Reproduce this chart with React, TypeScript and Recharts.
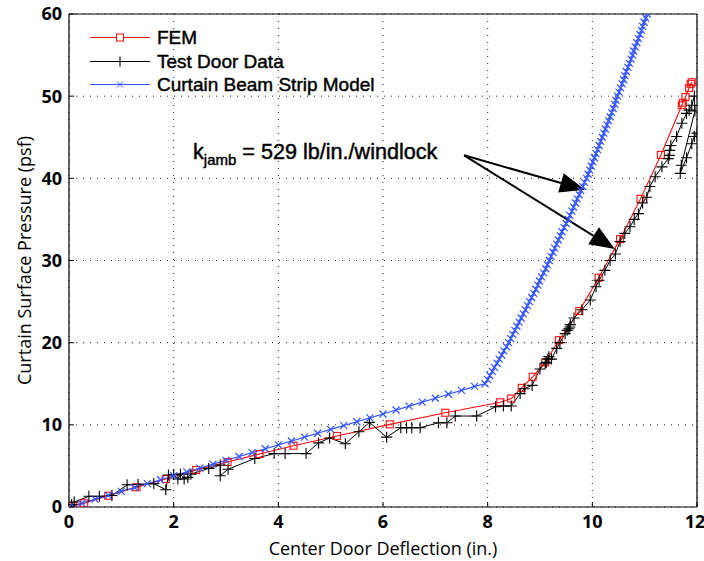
import React from 'react';
import {
  LineChart,
  Line,
  XAxis,
  YAxis,
  CartesianGrid,
  ReferenceLine,
  ReferenceDot,
  Label,
} from 'recharts';

const xTicks = [0, 2, 4, 6, 8, 10, 12];
const yTicks = [0, 10, 20, 30, 40, 50, 60];

const seriesNames = ['FEM', 'Test Door Data', 'Curtain Beam Strip Model'];
const annotationMain = 'k';
const annotationSub = 'jamb';
const annotationRest = ' = 529 lb/in./windlock';

// FEM
const femX = [0.08, 0.29, 0.75, 1.29, 1.85, 2.43, 3.03, 3.64, 4.29, 5.12, 6.13, 7.19, 8.24, 8.45, 8.65, 8.86, 9.1, 9.36, 9.75, 10.12, 10.53, 10.92, 11.31, 11.71, 11.73, 11.78, 11.85, 11.88, 11.9];
const femY = [0.12, 0.45, 1.37, 2.4, 3.4, 4.5, 5.47, 6.45, 7.46, 8.64, 10.06, 11.47, 12.74, 13.2, 14.5, 15.85, 17.6, 20.3, 23.85, 27.9, 32.6, 37.5, 42.85, 48.9, 49.2, 49.9, 51.0, 51.5, 51.7];

// Test door data
const testX = [0.05, 0.1, 0.38, 0.58, 0.82, 1.11, 1.32, 1.62, 1.85, 1.9, 2.0, 2.08, 2.13, 2.2, 2.27, 2.33, 2.67, 2.89, 2.89, 3.04, 3.55, 3.92, 4.13, 4.53, 4.77, 4.98, 5.28, 5.54, 5.74, 6.07, 6.34, 6.45, 6.55, 6.71, 7.06, 7.22, 7.38, 7.79, 8.15, 8.3, 8.45, 8.62, 8.7, 8.85, 9.0, 9.1, 9.12, 9.17, 9.15, 9.22, 9.32, 9.38, 9.48, 9.52, 9.57, 9.55, 9.58, 9.65, 9.8, 9.96, 10.07, 10.13, 10.24, 10.34, 10.44, 10.53, 10.62, 10.72, 10.8, 10.88, 10.96, 11.04, 11.1, 11.2, 11.33, 11.45, 11.47, 11.48, 11.5, 11.61, 11.71, 11.8, 11.85, 11.9, 11.95, 11.96, 11.7, 11.68, 11.8, 11.9, 11.95, 12.0];
const testY = [0.3, 0.6, 1.3, 1.3, 1.4, 2.7, 2.75, 2.85, 2.1, 3.9, 3.95, 3.4, 4.0, 3.4, 3.6, 4.0, 4.7, 5.1, 3.8, 4.6, 5.9, 6.5, 6.5, 6.5, 7.8, 8.4, 7.7, 9.15, 10.3, 8.5, 9.65, 9.65, 9.65, 9.65, 10.25, 10.25, 11.07, 11.07, 12.2, 12.3, 12.3, 13.8, 14.4, 14.8, 16.8, 17.5, 17.6, 18.3, 18.0, 18.0, 19.3, 20.0, 21.1, 21.5, 21.9, 21.7, 22.2, 23.0, 24.0, 25.2, 26.8, 27.6, 28.8, 30.0, 30.8, 32.3, 33.3, 34.1, 35.0, 35.7, 37.0, 37.7, 39.0, 40.2, 41.4, 42.4, 42.8, 43.4, 44.0, 45.1, 46.7, 47.9, 48.3, 48.9, 50.0, 48.2, 41.6, 40.6, 42.5, 44.2, 45.1, 45.5];

// Curtain beam strip model
const beamX = [0, 0.25, 0.5, 0.75, 1.0, 1.25, 1.5, 1.75, 2.0, 2.25, 2.5, 2.75, 3.0, 3.25, 3.5, 3.75, 4.0, 4.25, 4.5, 4.75, 5.0, 5.25, 5.5, 5.75, 6.0, 6.25, 6.5, 6.75, 7.0, 7.25, 7.5, 7.75,
  7.95, 8.0, 8.04, 8.09, 8.13, 8.18, 8.22, 8.27, 8.31, 8.36, 8.4, 8.44, 8.48, 8.52, 8.56, 8.6, 8.64, 8.68, 8.72, 8.76, 8.8, 8.84, 8.88, 8.92, 8.96, 8.99, 9.03, 9.07, 9.11, 9.14, 9.18, 9.21, 9.25, 9.28, 9.32, 9.35, 9.39, 9.42, 9.46, 9.5, 9.54, 9.57, 9.61, 9.64, 9.68, 9.71, 9.75, 9.78, 9.82, 9.85, 9.89, 9.92, 9.95, 9.98, 10.01, 10.04, 10.07, 10.1, 10.13, 10.16, 10.19, 10.22, 10.25, 10.28, 10.31, 10.34, 10.37, 10.4, 10.43, 10.45, 10.48, 10.51, 10.54, 10.57, 10.6, 10.62, 10.65, 10.68, 10.71, 10.74, 10.77, 10.79, 10.82, 10.85, 10.88, 10.91, 10.94, 10.96, 10.99, 11.02, 11.05];
const beamY = [0, 0.47, 0.95, 1.42, 1.9, 2.37, 2.85, 3.32, 3.8, 4.27, 4.74, 5.21, 5.68, 6.15, 6.62, 7.09, 7.56, 8.03, 8.5, 8.97, 9.44, 9.91, 10.38, 10.85, 11.32, 11.8, 12.28, 12.76, 13.24, 13.72, 14.2, 14.68,
  15, 15.5, 16, 16.5, 17, 17.5, 18, 18.5, 19, 19.5, 20, 20.5, 21, 21.5, 22, 22.5, 23, 23.5, 24, 24.5, 25, 25.5, 26, 26.5, 27, 27.5, 28, 28.5, 29, 29.5, 30, 30.5, 31, 31.5, 32, 32.5, 33, 33.5, 34, 34.5, 35, 35.5, 36, 36.5, 37, 37.5, 38, 38.5, 39, 39.5, 40, 40.5, 41, 41.5, 42, 42.5, 43, 43.5, 44, 44.5, 45, 45.5, 46, 46.5, 47, 47.5, 48, 48.5, 49, 49.5, 50, 50.5, 51, 51.5, 52, 52.5, 53, 53.5, 54, 54.5, 55, 55.5, 56, 56.5, 57, 57.5, 58, 58.5, 59, 59.5, 60];

// Annotation anchor points (data coordinates)
const labelAt = { x: 2.37, y: 42.4 };
const arrowStart = { x: 7.55, y: 42.8 };
const arrowTip1 = { x: 9.86, y: 38.6 };
const arrowTip2 = { x: 10.43, y: 31.4 };

const zip = (xs: number[], ys: number[]) => xs.map((x, i) => ({ x, y: ys[i] }));
const femData = zip(femX, femY);
const testData = zip(testX, testY);
const beamData = zip(beamX, beamY);

const RED = '#ff0d0d';
const BLUE = '#3355ff';
const BLACK = '#000000';
const TEXT_STROKE = '0.45px #000';

const SquareDot = (p: any) => {
  if (p.cx == null || p.cy == null) return <g key={`s${p.index}`} />;
  return (
    <rect key={`s${p.index}`} x={p.cx - 3.5} y={p.cy - 3.5} width={7} height={7} fill="none" stroke={RED} strokeWidth={1.1} />
  );
};
const PlusDot = (p: any) => {
  if (p.cx == null || p.cy == null) return <g key={`p${p.index}`} />;
  const h = 5.5;
  return (
    <path key={`p${p.index}`} d={`M${p.cx - h},${p.cy}H${p.cx + h}M${p.cx},${p.cy - h}V${p.cy + h}`} stroke={BLACK} strokeWidth={1.1} fill="none" />
  );
};
const XDot = (p: any) => {
  if (p.cx == null || p.cy == null) return <g key={`x${p.index}`} />;
  const h = 3.5;
  return (
    <path key={`x${p.index}`} d={`M${p.cx - h},${p.cy - h}L${p.cx + h},${p.cy + h}M${p.cx - h},${p.cy + h}L${p.cx + h},${p.cy - h}`} stroke={BLUE} strokeWidth={1.2} fill="none" />
  );
};

const ArrowShape = (p: any) => {
  const { x1, y1, x2, y2 } = p;
  const dx = x2 - x1;
  const dy = y2 - y1;
  const len = Math.hypot(dx, dy) || 1;
  const ux = dx / len;
  const uy = dy / len;
  const hl = 25;
  const hw = 10;
  const bx = x2 - ux * hl;
  const by = y2 - uy * hl;
  const pts = `${x2},${y2} ${bx - uy * hw},${by + ux * hw} ${bx + uy * hw},${by - ux * hw}`;
  return (
    <g>
      <line x1={x1} y1={y1} x2={bx} y2={by} stroke={BLACK} strokeWidth={2} />
      <polygon points={pts} fill={BLACK} />
    </g>
  );
};

const AnnotationText = (p: any) => (
  <text x={p.cx} y={p.cy} fontFamily="'Liberation Sans', Arial, sans-serif" fontSize={21.6} fill={BLACK} stroke={BLACK} strokeWidth={0.45}>
    {annotationMain}
    <tspan dy={6} fontSize={15}>{annotationSub}</tspan>
    <tspan dy={-6} fontSize={21.6}>{annotationRest}</tspan>
  </text>
);

const legendItems = [
  { name: seriesNames[0], color: RED, marker: 'square' },
  { name: seriesNames[1], color: BLACK, marker: 'plus' },
  { name: seriesNames[2], color: BLUE, marker: 'x' },
];

const LegendMarker = ({ marker, color }: { marker: string; color: string }) => {
  const cx = 30;
  const cy = 11.5;
  if (marker === 'square') return <rect x={cx - 3.5} y={cy - 3.5} width={7} height={7} fill="#fff" stroke={color} />;
  if (marker === 'plus') return <path d={`M${cx - 5},${cy}H${cx + 5}M${cx},${cy - 5}V${cy + 5}`} stroke={color} strokeWidth={1.1} />;
  return <path d={`M${cx - 3},${cy - 3}L${cx + 3},${cy + 3}M${cx - 3},${cy + 3}L${cx + 3},${cy - 3}`} stroke={color} />;
};

const tickFont = { fontFamily: "'Open Sans', sans-serif", fontSize: 18, fontWeight: 700 };

const YTitle = (props: any) => {
  const vb = props.viewBox || { x: 8, y: 14, width: 61, height: 493 };
  const cx = vb.x + 23;
  const cy = vb.y + vb.height / 2;
  return (
    <text x={cx} y={cy} transform={`rotate(-90 ${cx} ${cy})`} textAnchor="middle" fontFamily="'Open Sans', sans-serif" fontSize={18} fill={BLACK}>
      Curtain Surface Pressure (psf)
    </text>
  );
};
const XTitle = (props: any) => {
  const vb = props.viewBox || { x: 69, y: 507, width: 628, height: 54 };
  return (
    <text x={vb.x + vb.width / 2} y={vb.y + 48} textAnchor="middle" fontFamily="'Open Sans', sans-serif" fontSize={18} fill={BLACK}>
      Center Door Deflection (in.)
    </text>
  );
};

const XTick = (p: any) => {
  const v = p.payload.value;
  const shift = v === xTicks[xTicks.length - 1] ? -2 : 0;
  return (
    <text x={p.x + shift} y={p.y} dy="0.71em" textAnchor="middle" fill={BLACK} style={tickFont}>
      {v}
    </text>
  );
};
const YTick = (p: any) => {
  const v = p.payload.value;
  return (
    <text x={p.x} y={p.y} dy="0.355em" textAnchor="end" fill={BLACK} style={tickFont}>
      {v}
    </text>
  );
};

export default function App() {
  return (
    <div style={{ position: 'fixed', left: 0, top: 0, width: 704, height: 561, background: '#fff' }}>
      <LineChart width={704} height={561} margin={{ top: 14, right: 7, bottom: 0, left: 8 }}>
        <CartesianGrid stroke="#222" strokeDasharray="1 6" strokeWidth={1} />
        <XAxis
          type="number"
          dataKey="x"
          domain={[0, 12]}
          ticks={xTicks}
          allowDataOverflow
          height={54}
          tickLine={{ stroke: BLACK }}
          tickSize={-5}
          tickMargin={13}
          axisLine={{ stroke: BLACK, strokeWidth: 1.2 }}
          tick={XTick}
          interval={0}
        >
          <Label content={XTitle} />
        </XAxis>
        <XAxis
          xAxisId="top"
          orientation="top"
          type="number"
          dataKey="x"
          domain={[0, 12]}
          ticks={xTicks}
          allowDataOverflow
          height={0}
          tickLine={{ stroke: BLACK }}
          tickSize={-5}
          tick={false}
          axisLine={false}
          interval={0}
        />
        <YAxis
          type="number"
          dataKey="y"
          domain={[0, 60]}
          ticks={yTicks}
          allowDataOverflow
          width={61}
          tickLine={{ stroke: BLACK }}
          tickSize={-5}
          tickMargin={12}
          axisLine={{ stroke: BLACK, strokeWidth: 1.2 }}
          tick={YTick}
          interval={0}
        >
          <Label content={YTitle} />
        </YAxis>
        <YAxis
          yAxisId="right"
          orientation="right"
          type="number"
          dataKey="y"
          domain={[0, 60]}
          ticks={yTicks}
          allowDataOverflow
          width={0}
          tickLine={{ stroke: BLACK }}
          tickSize={-5}
          tick={false}
          axisLine={false}
          interval={0}
        />
        <ReferenceLine y={60} stroke={BLACK} strokeWidth={1.2} />
        <ReferenceLine x={12} stroke={BLACK} strokeWidth={1.2} />
        <Line data={femData} dataKey="y" stroke={RED} strokeWidth={1.1} dot={SquareDot} activeDot={false} isAnimationActive={false} type="linear" />
        <Line data={testData} dataKey="y" stroke={BLACK} strokeWidth={1} dot={PlusDot} activeDot={false} isAnimationActive={false} type="linear" />
        <Line data={beamData} dataKey="y" stroke={BLUE} strokeWidth={1.2} dot={XDot} activeDot={false} isAnimationActive={false} type="linear" />
        <ReferenceLine segment={[arrowStart, arrowTip1]} shape={ArrowShape} />
        <ReferenceLine segment={[arrowStart, arrowTip2]} shape={ArrowShape} />
        <ReferenceDot x={labelAt.x} y={labelAt.y} r={0} shape={AnnotationText} />
      </LineChart>
      <div style={{ position: 'absolute', left: 90, top: 26, fontFamily: "'Liberation Sans', Arial, sans-serif", fontSize: 19, color: BLACK, lineHeight: '23px', WebkitTextStroke: TEXT_STROKE } as any}>
        {legendItems.map((it) => (
          <div key={it.name} style={{ display: 'flex', alignItems: 'center', height: 23.5 }}>
            <svg width={60} height={23} style={{ display: 'block' }}>
              <line x1={0} y1={11.5} x2={60} y2={11.5} stroke={it.color} strokeWidth={1} />
              <LegendMarker marker={it.marker} color={it.color} />
            </svg>
            <span style={{ marginLeft: 7, whiteSpace: 'nowrap' }}>{it.name}</span>
          </div>
        ))}
      </div>
    </div>
  );
}
